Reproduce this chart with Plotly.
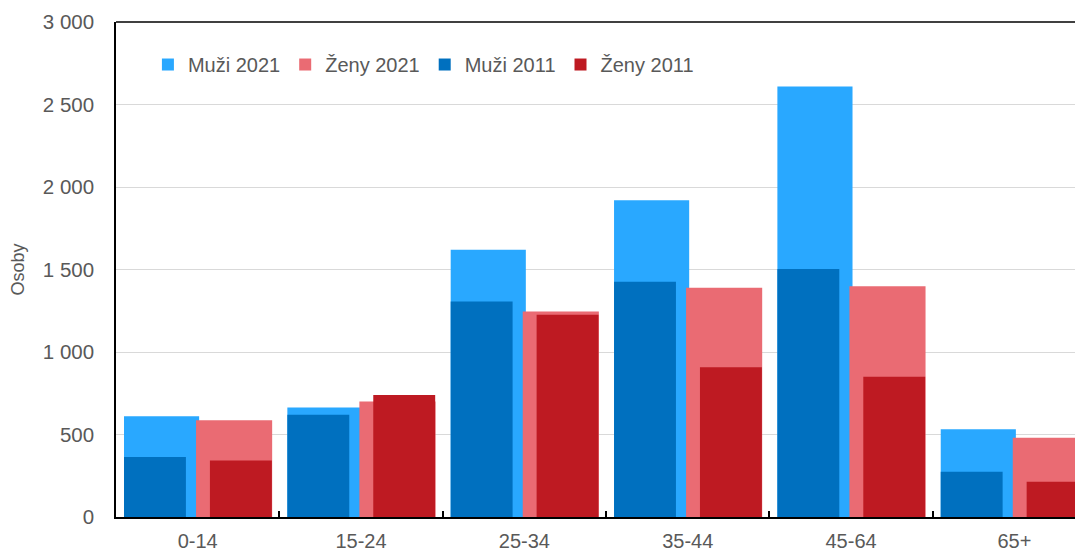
import plotly.graph_objects as go

categories = ["0-14", "15-24", "25-34", "35-44", "45-64", "65+"]
muzi_2021 = [611, 663, 1620, 1920, 2609, 532]
zeny_2021 = [587, 700, 1246, 1390, 1398, 481]
muzi_2011 = [364, 619, 1306, 1426, 1503, 275]
zeny_2011 = [342, 740, 1226, 908, 850, 214]
y_ticks = [0, 500, 1000, 1500, 2000, 2500, 3000]
y_tick_labels = ["0", "500", "1 000", "1 500", "2 000", "2 500", "3 000"]

FONT = "Liberation Sans, Arial, sans-serif"
GREY = "#595959"

series = [
    ("Muži 2021", muzi_2021, "#29A8FF", -0.451, 0.46),
    ("Ženy 2021", zeny_2021, "#EA6B73", -0.010, 0.466),
    ("Muži 2011", muzi_2011, "#0070BF", -0.451, 0.379),
    ("Ženy 2011", zeny_2011, "#BE1A22", 0.075, 0.379),
]

fig = go.Figure()
for name, vals, color, off, w in series:
    fig.add_trace(go.Bar(
        x=categories, y=vals, name=name,
        marker=dict(color=color, line=dict(width=0)),
        offset=off, width=w,
    ))

# page has an 8px body margin, so the figure is sized to fill the rest of the window
W, H = 1075, 540
ML, MT, MB, MR = 108, 14, 31, 0

fig.update_layout(
    width=W, height=H,
    margin=dict(l=ML, r=MR, t=MT, b=MB, pad=0),
    barmode="overlay",
    plot_bgcolor="white", paper_bgcolor="white",
    font=dict(family=FONT, size=20, color=GREY),
    showlegend=True,
    legend=dict(
        orientation="h", x=0.033, xanchor="left", y=0.9535, yanchor="top",
        bgcolor="rgba(0,0,0,0)", font=dict(family=FONT, size=20, color=GREY),
        traceorder="normal",
    ),
)

fig.update_xaxes(
    type="category", categoryorder="array", categoryarray=categories,
    range=[-0.5, 5.42], automargin=False,
    showline=True, linecolor="black", linewidth=2,
    ticks="inside", tickson="boundaries", ticklen=6, tickcolor="black", tickwidth=1.5,
    showgrid=False, tickfont=dict(family=FONT, size=20, color=GREY),
    ticklabelstandoff=5,
)
fig.update_yaxes(
    range=[0, 3000], automargin=False,
    tickvals=y_ticks, ticktext=y_tick_labels,
    showline=True, linecolor="black", linewidth=1.5,
    showgrid=True, gridcolor="#D9D9D9", gridwidth=1.3,
    zeroline=False, ticks="",
    tickfont=dict(family=FONT, size=20.5, color=GREY),
    ticklabelstandoff=16,
    title=dict(text="Osoby", font=dict(family=FONT, size=18, color=GREY), standoff=18),
)

fig.add_shape(type="line", xref="paper", yref="paper", x0=0, x1=1, y0=1, y1=1,
              line=dict(color="black", width=1.5))

fig.write_html("out.html")
